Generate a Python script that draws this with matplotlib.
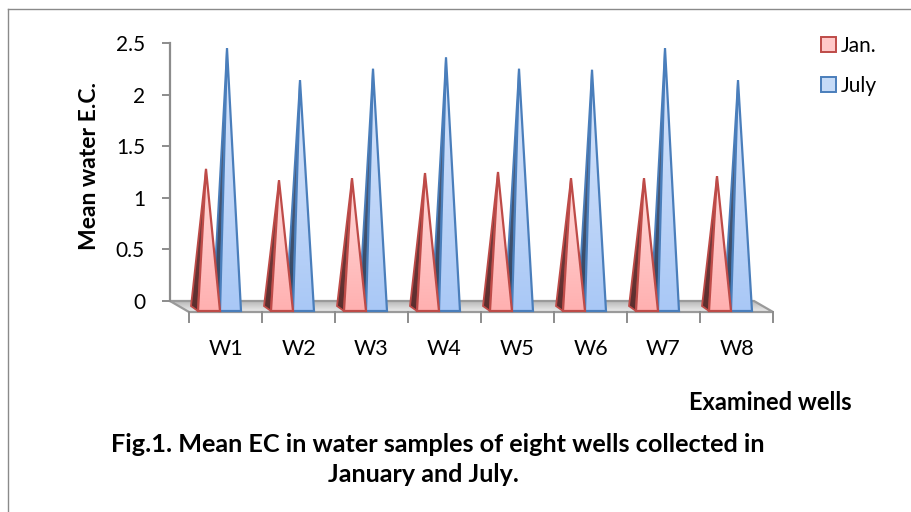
import numpy as np
import matplotlib
matplotlib.use("Agg")
import matplotlib.pyplot as plt
from matplotlib.patches import Polygon, Patch
from matplotlib.colors import LinearSegmentedColormap
from matplotlib.lines import Line2D

# ---- data ----
wells = ["W1", "W2", "W3", "W4", "W5", "W6", "W7", "W8"]
jan = [1.28, 1.17, 1.19, 1.24, 1.25, 1.19, 1.19, 1.21]
july = [2.45, 2.14, 2.25, 2.36, 2.25, 2.24, 2.45, 2.14]
yticks = [0, 0.5, 1, 1.5, 2, 2.5]
ytick_labels = ["0", "0.5", "1", "1.5", "2", "2.5"]
series_names = ["Jan.", "July"]

plt.rcParams['font.family'] = ['Lato', 'DejaVu Sans']

W, H = 911, 512
fig = plt.figure(figsize=(W / 100, H / 100), dpi=100)
fig.patch.set_facecolor("white")

PX = 73.0            # pixels per category
PY = 258.0 / 2.5     # pixels per value unit
BACK_DX = -19.0 / PX  # back wall x-shift (data units)
FLOOR_DY = 11.0 / PY  # floor depth (data units)

ax = fig.add_axes([170 / W, (H - 301) / H, 603 / W, 258 / H])
ax.set_facecolor("none")
for s in ["top", "right", "bottom"]:
    ax.spines[s].set_visible(False)
ax.spines["left"].set_color("#8c8c8c")
ax.spines["left"].set_linewidth(1.6)
ax.set_xticks([])
ax.set_yticks(yticks)
ax.set_yticklabels(ytick_labels)
ax.tick_params(axis="y", direction="out", length=6, width=1.4, color="#8c8c8c",
               labelsize=15, pad=12, labelcolor="black")

def px(v):
    return v / PX

def py(v):
    return v / PY

def grad_poly(verts, top, bot, edge, lw, z):
    poly = Polygon(verts, closed=True, facecolor="none", edgecolor=edge, lw=lw,
                   zorder=z + 0.1, joinstyle="miter", clip_on=False)
    ax.add_patch(poly)
    xs = [v[0] for v in verts]
    ys = [v[1] for v in verts]
    cmap = LinearSegmentedColormap.from_list("g", [bot, top])
    grad = np.linspace(0, 1, 256).reshape(-1, 1)
    im = ax.imshow(grad, extent=[min(xs), max(xs), min(ys), max(ys)], origin="lower",
                   cmap=cmap, aspect="auto", zorder=z, interpolation="bilinear")
    im.set_clip_box(fig.bbox)
    im.set_clip_path(poly)
    return poly

# ---- floor ----
n = len(wells)
floor = [(BACK_DX, 0), (n + BACK_DX, 0), (n, -FLOOR_DY), (0, -FLOOR_DY)]
grad_poly(floor, "#b8b8b8", "#ededed", "#9a9a9a", 1.6, 1)
for i in range(n + 1):
    ax.add_line(Line2D([i, i], [-FLOOR_DY, -FLOOR_DY - py(10)], color="#8c8c8c",
                       lw=1.4, clip_on=False, zorder=1.5))

# ---- pyramids ----
base_y = -py(10)
back_y = -py(5)
specs = [
    (july, 31, 52, 38, "#dbe7fb", "#a9c8f6", "#4a7ebb", "#5a6f91", "#34445e"),
    (jan, 9, 31, 17, "#ffdcdc", "#ffb0b0", "#be4b48", "#8a4444", "#5a2e2e"),
]
for k, (vals, bl, br, tp, ftop, fbot, edge, stop, sbot) in enumerate(specs):
    for i, v in enumerate(vals):
        z = 3 + 2 * k
        tip = (i + px(tp), v)
        side = [(i + px(bl - 7), back_y), (i + px(bl), base_y), tip]
        grad_poly(side, stop, sbot, edge, 1.3, z)
        front = [(i + px(bl), base_y), (i + px(br), base_y), tip]
        grad_poly(front, ftop, fbot, edge, 1.6, z + 0.5)

ax.set_xlim(BACK_DX, n)
ax.set_ylim(0, 2.5)

# x category labels
for i, w in enumerate(wells):
    ax.text(i + 0.5, -py(48), w, ha="center", va="center", fontsize=15.5, clip_on=False)

# legend
handles = [Patch(facecolor="#ffc9c9", edgecolor="#be4b48", lw=1.4, label=series_names[0]),
           Patch(facecolor="#c6dbf7", edgecolor="#4a7ebb", lw=1.4, label=series_names[1])]
fig.legend(handles=handles, loc="upper left", bbox_to_anchor=(821 / W, 1 - 36 / H),
           frameon=False, fontsize=15, handlelength=0.72, handleheight=0.72,
           handletextpad=0.25, labelspacing=0.95, borderpad=0, borderaxespad=0)

# texts
fig.text(90 / W, 1 - 166 / H, "Mean water E.C.", rotation=90, ha="center", va="center",
         fontsize=16.5, fontweight="bold")
fig.text(770 / W, 1 - 402 / H, "Examined wells", ha="center", va="center",
         fontsize=17, fontweight="bold")
fig.text(438 / W, 1 - 444 / H, "Fig.1. Mean EC in water samples of eight wells collected in",
         ha="center", va="center", fontsize=18.2, fontweight="bold")
fig.text(423 / W, 1 - 474 / H, "January and July.", ha="center", va="center",
         fontsize=18, fontweight="bold")

# border
fig.add_artist(Line2D([8 / W, 8 / W], [0, 1 - 9 / H], color="#8a8a8a", lw=1.0,
                      transform=fig.transFigure))
fig.add_artist(Line2D([8 / W, 1], [1 - 9 / H, 1 - 9 / H], color="#8a8a8a", lw=1.0,
                      transform=fig.transFigure))

fig.savefig("out.png", dpi=100)
